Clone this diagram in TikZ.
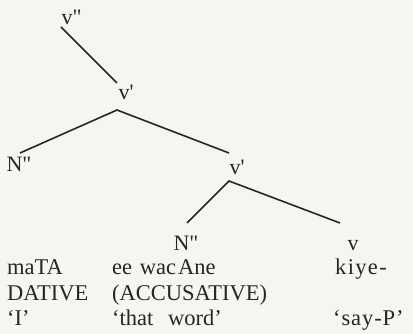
\documentclass[tikz,border=0pt]{standalone}
\usepackage{fontspec}
\defaultfontfeatures{Ligatures=TeXOff}
\setmainfont{Liberation Serif}[Ligatures=TeXOff]
\definecolor{bg}{RGB}{243,246,241}
\definecolor{ink}{RGB}{38,38,38}
\begin{document}
\begin{tikzpicture}[x=1pt,y=-1pt,
  lbl/.style={inner sep=0pt,anchor=base,text=ink,font=\fontsize{22}{24}\selectfont},
  row/.style={inner sep=0pt,anchor=base west,text=ink,font=\fontsize{22.5}{24}\selectfont},
  branch/.style={draw=ink,line width=1.6pt}]
\fill[bg] (0,0) rectangle (413,334);
\useasboundingbox (0,0) rectangle (413,334);
% tree labels
\node[lbl] (vpp) at (71.5,25) {v"};
\node[lbl] (vp1) at (126,100) {v'};
\node[lbl] (np1) at (19,172) {N"};
\node[lbl] (vp2) at (237,175) {v'};
\node[lbl] (np2) at (186,251) {N"};
\node[lbl] (v) at (353,251) {v};
% branch points
\coordinate (t0) at (61,27);
\coordinate (t1) at (117,83);
\coordinate (a1) at (117,110);
\coordinate (l1) at (20,153);
\coordinate (r1) at (229,153);
\coordinate (a2) at (229,181);
\coordinate (l2) at (187,223);
\coordinate (r2) at (340,223);
\draw[branch] (t0) -- (t1);
\draw[branch] (l1) -- (a1) -- (r1);
\draw[branch] (l2) -- (a2) -- (r2);
% rows
\node[row] (m1) at (7,275) {maTA};
\node[row] (m2) at (7,300.5) {DATIVE};
\node[row] (m3) at (7,326) {‘I’};
\node[row] (e1) at (112,275) {ee\hspace{2pt} wac\hspace{2pt}Ane};
\node[row] (e2) at (112,300.5) {(ACCUSATIVE)};
\node[row] (e3) at (112,326) {‘that\hspace{9pt} word’};
\node[row] (k1) at (335,275) {\addfontfeature{LetterSpace=6}kiye-};
\node[row] (k3) at (333,326) {\addfontfeature{LetterSpace=4}‘say-P’};
\end{tikzpicture}
\end{document}
